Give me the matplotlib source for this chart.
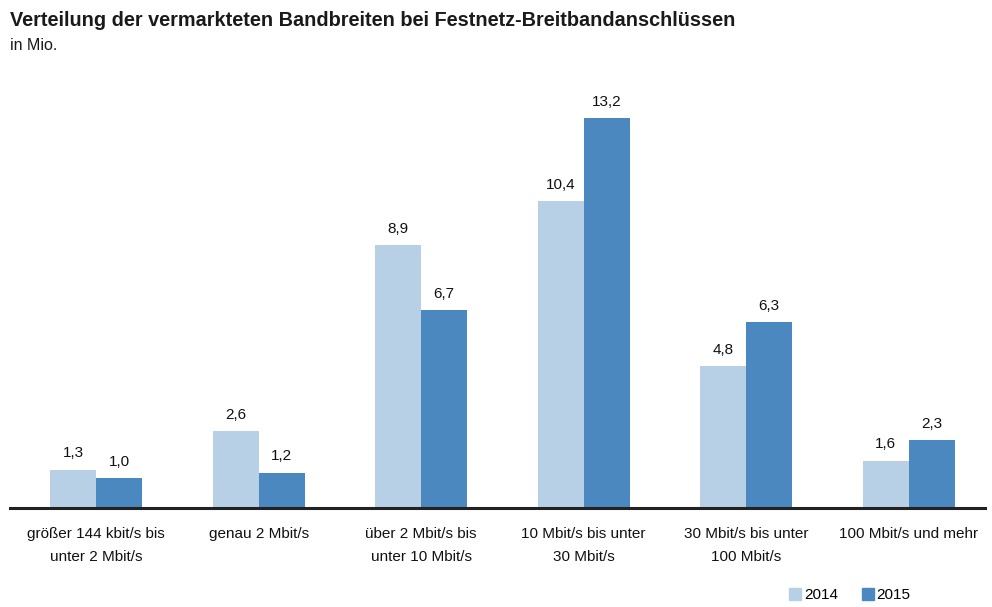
import matplotlib
matplotlib.use("Agg")
import matplotlib.pyplot as plt
import numpy as np
from matplotlib.lines import Line2D

plt.rcParams['font.family'] = ['Liberation Sans', 'DejaVu Sans']

categories = ["größer 144 kbit/s bis\nunter 2 Mbit/s", "genau 2 Mbit/s",
              "über 2 Mbit/s bis\nunter 10 Mbit/s", "10 Mbit/s bis unter\n30 Mbit/s",
              "30 Mbit/s bis unter\n100 Mbit/s", "100 Mbit/s und mehr"]
values_2014 = [1.3, 2.6, 8.9, 10.4, 4.8, 1.6]
values_2015 = [1.0, 1.2, 6.7, 13.2, 6.3, 2.3]
series_names = ["2014", "2015"]
c14 = "#b8d0e6"
c15 = "#4a88bf"

fig = plt.figure(figsize=(9.92, 6.07), dpi=100)
ax = fig.add_axes([10/992, 1-508/607, 975/992, (508-80)/607])
x = np.arange(len(categories))
w = 0.283
b1 = ax.bar(x - w/2, values_2014, w, color=c14)
b2 = ax.bar(x + w/2, values_2015, w, color=c15)
for bars, vals in ((b1, values_2014), (b2, values_2015)):
    for r, v in zip(bars, vals):
        ax.text(r.get_x() + r.get_width()/2, v + 0.32, f"{v:.1f}".replace(".", ","),
                ha="center", va="bottom", fontsize=11, color="#111111")
ax.set_xlim(-0.53, 5.47)
ax.set_ylim(0, 14.5)
ax.set_yticks([])
ax.set_xticks(x)
ax.set_xticklabels(categories, fontsize=11, color="#111111", linespacing=1.75)
ax.tick_params(axis='x', length=0, pad=14)
for s in ["top", "right", "left"]:
    ax.spines[s].set_visible(False)
ax.spines["bottom"].set_linewidth(2.2)
ax.spines["bottom"].set_color("#222222")

fig.text(10/992, 1-20/607, "Verteilung der vermarkteten Bandbreiten bei Festnetz-Breitbandanschlüssen",
         fontsize=14.3, fontweight="bold", va="center", ha="left", color="#1a1a1a")
fig.text(10/992, 1-45/607, "in Mio.", fontsize=11.5, va="center", ha="left", color="#1a1a1a")

handles = [Line2D([], [], marker="s", linestyle="", markersize=8, color=c14),
           Line2D([], [], marker="s", linestyle="", markersize=8, color=c15)]
fig.legend(handles, series_names, loc="center", bbox_to_anchor=(850/992, 1-595/607),
           ncol=2, frameon=False, fontsize=11, handletextpad=0.15, columnspacing=1.6,
           handlelength=0.8)

fig.savefig("out.png", dpi=100)
